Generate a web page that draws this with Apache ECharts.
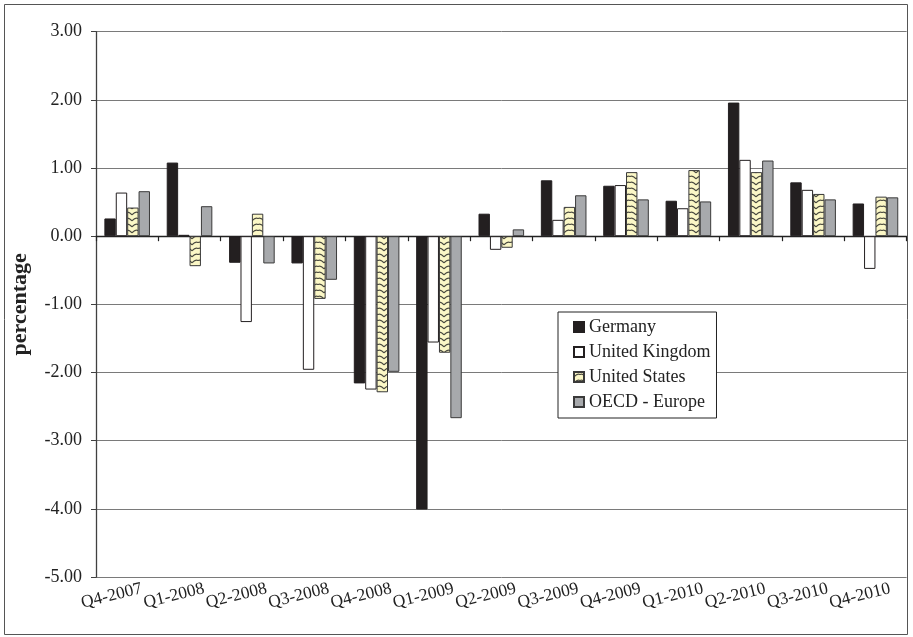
<!DOCTYPE html>
<html>
<head>
<meta charset="utf-8">
<script src="https://cdn.jsdelivr.net/npm/echarts@6/dist/echarts.min.js"></script>
<style>
html,body{margin:0;padding:0;background:#fff;}
#chart{width:913px;height:637px;}
</style>
</head>
<body>
<div id="chart"></div>
<script>
const categories = ['Q4-2007','Q1-2008','Q2-2008','Q3-2008','Q4-2008','Q1-2009','Q2-2009','Q3-2009','Q4-2009','Q1-2010','Q2-2010','Q3-2010','Q4-2010'];
const germany = [0.26, 1.08, -0.39, -0.40, -2.16, -4.01, 0.33, 0.82, 0.74, 0.52, 1.96, 0.79, 0.48];
const unitedKingdom = [0.64, 0.02, -1.26, -1.96, -2.25, -1.56, -0.20, 0.24, 0.75, 0.41, 1.12, 0.68, -0.48];
const unitedStates = [0.42, -0.44, 0.33, -0.92, -2.29, -1.71, -0.17, 0.43, 0.94, 0.97, 0.94, 0.62, 0.58];
const oecdEurope = [0.66, 0.44, -0.40, -0.64, -1.99, -2.67, 0.10, 0.60, 0.54, 0.51, 1.11, 0.54, 0.57];
const yMin = -5, yMax = 3, yStep = 1;

const serif = '"Liberation Serif", "Times New Roman", serif';

// zigzag pattern for United States
const pc = document.createElement('canvas');
pc.width = 12; pc.height = 6;
const g = pc.getContext('2d');
g.fillStyle = '#fbf7c6';
g.fillRect(0, 0, 12, 6);
g.strokeStyle = '#4a4a40';
g.lineWidth = 1.1;
g.beginPath();
g.moveTo(0, 5); g.quadraticCurveTo(3, 1, 6, 2.5); g.quadraticCurveTo(9, 1, 12, 5);
g.stroke();

const chart = echarts.init(document.getElementById('chart'), null, {renderer: 'canvas'});
const barBase = {type: 'bar', xAxisIndex: 0, barWidth: 11.4, barGap: '0%'};
chart.setOption({
  animation: false,
  backgroundColor: '#fff',
  grid: {left: 96, right: 6, top: 31.7, bottom: 60},
  legend: {
    orient: 'vertical', left: 558, top: 312,
    padding: [6, 6, 7, 15], itemGap: 7, itemWidth: 10, itemHeight: 10,
    borderColor: '#222', borderWidth: 1, backgroundColor: '#fff',
    icon: 'rect',
    textStyle: {fontFamily: serif, fontSize: 18, color: '#222'},
    data: ['Germany', 'United Kingdom', 'United States', 'OECD - Europe']
  },
  xAxis: [{
    type: 'category', data: categories,
    axisLine: {onZero: true, lineStyle: {color: '#222', width: 1.3}},
    axisTick: {show: true, length: 5, lineStyle: {color: '#222', width: 1.2}},
    axisLabel: {show: false},
    splitLine: {show: false}
  }, {
    type: 'category', data: categories, position: 'bottom',
    axisLine: {show: false, onZero: false}, axisTick: {show: false},
    axisLabel: {
      show: true, rotate: 14, align: 'center', margin: 15, interval: 0,
      formatter: v => '{t|' + v + '}{s| }',
      rich: {t: {fontFamily: serif, fontSize: 17.5, color: '#222'}, s: {width: 32, fontSize: 17}}
    },
    splitLine: {show: false}
  }],
  yAxis: {
    type: 'value', min: yMin, max: yMax, interval: yStep,
    name: 'percentage', nameLocation: 'middle', nameGap: 65,
    nameTextStyle: {fontFamily: serif, fontSize: 22, fontWeight: 'bold', color: '#222'},
    axisLine: {show: true, lineStyle: {color: '#404040', width: 1.3}},
    axisTick: {show: true, length: 5, lineStyle: {color: '#404040'}},
    axisLabel: {fontFamily: serif, fontSize: 18, color: '#222', margin: 14, formatter: v => v.toFixed(2)},
    splitLine: {lineStyle: {color: '#7a7a7a', width: 1}}
  },
  series: [
    Object.assign({}, barBase, {name: 'Germany', data: germany, itemStyle: {color: '#231f20', borderColor: '#231f20', borderWidth: 1}}),
    Object.assign({}, barBase, {name: 'United Kingdom', data: unitedKingdom, itemStyle: {color: '#ffffff', borderColor: '#231f20', borderWidth: 1}}),
    Object.assign({}, barBase, {name: 'United States', data: unitedStates, itemStyle: {color: {image: pc, repeat: 'repeat'}, borderColor: '#3a3a3a', borderWidth: 1}}),
    Object.assign({}, barBase, {name: 'OECD - Europe', data: oecdEurope, itemStyle: {color: '#a7a9ac', borderColor: '#3a3a3a', borderWidth: 1}})
  ],
  graphic: [{
    type: 'rect', silent: true, z: 100,
    shape: {x: 4.5, y: 4.5, width: 903, height: 630},
    style: {fill: 'none', stroke: '#555', lineWidth: 1}
  }]
});
</script>
</body>
</html>
